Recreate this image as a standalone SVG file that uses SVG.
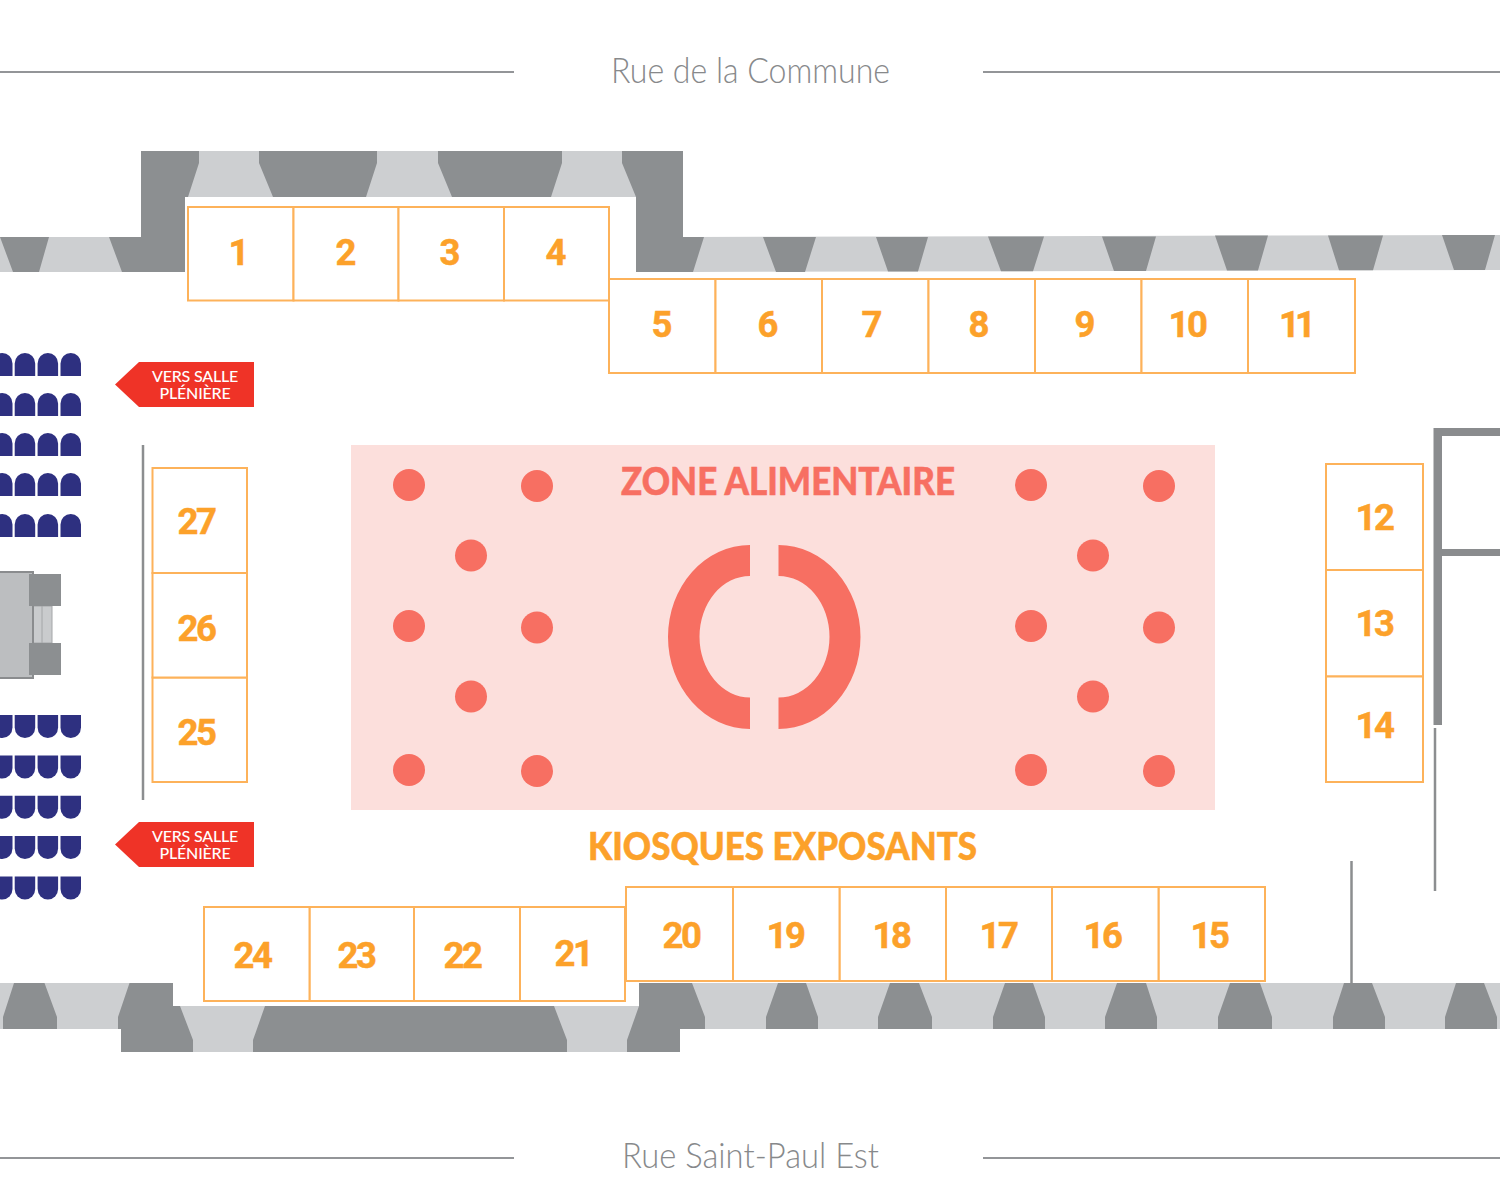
<svg xmlns="http://www.w3.org/2000/svg" width="1500" height="1200" viewBox="0 0 1500 1200">
<style>
.light{fill:#cdcfd1}
.dark{fill:#8c8f91}
.rule{stroke:#939598;stroke-width:2;fill:none}
.thin{stroke:#8c8e90;stroke-width:2.5;fill:none}
.wall{fill:#8a8c8e}
.street{font-family:"Lato","Liberation Sans",sans-serif;font-weight:300;font-size:36px;fill:#87898b}
.booth rect{fill:#fff;stroke:#fdb25a;stroke-width:2}
.booth text{font-family:"Roboto","Liberation Sans",sans-serif;font-weight:700;font-size:36.500px;fill:#fca12a;text-anchor:middle;stroke:#fca12a;stroke-width:.5}
.booth text.n{letter-spacing:-2.500px}
.booth text.e{letter-spacing:-5px}
.head{font-family:"Lato","Liberation Sans",sans-serif;font-weight:900;font-size:37px;stroke-width:.5}
.flag{fill:#ef3327}
.flagt{font-family:"Lato","Liberation Sans",sans-serif;font-weight:500;font-size:16px;fill:#fff;text-anchor:middle;letter-spacing:-.2px}
.c{fill:#f76f62}
.s{fill:#2e3080}
</style>
<defs>
<path id="up" d="M0 23V10.500A10.250 10.500 0 0 1 20.500 10.500V23Z"/>
<path id="dn" d="M0 0V12.500A10.250 10.500 0 0 0 20.500 12.500V0Z"/>
<g id="ur"><use href="#up" x="-8"/><use href="#up" x="14.700"/><use href="#up" x="37.600"/><use href="#up" x="60.500"/></g>
<g id="dr"><use href="#dn" x="-8"/><use href="#dn" x="14.700"/><use href="#dn" x="37.600"/><use href="#dn" x="60.500"/></g>
</defs>
<rect width="1500" height="1200" fill="#fff"/>

<g id="streets">
<path class="rule" d="M0 72H514M983 72H1500M0 1158H514M983 1158H1500"/>
<text class="street" x="611" y="83" textLength="279" lengthAdjust="spacingAndGlyphs">Rue de la Commune</text>
<text class="street" x="622" y="1168" textLength="257" lengthAdjust="spacingAndGlyphs">Rue Saint-Paul Est</text>
</g>

<g id="building-top">
<path class="light" d="M0 237H141V272H0ZM188 151H636V197H188ZM690 237L1500 235V270L690 272Z"/>
<path class="dark" d="M0 237H49L39 272H13ZM109 237H141V151H199V163L188 197H185V272H122ZM259 151H377V163L366 197H273L259 163ZM438 151H562V163L551 197H452L438 163ZM622 151H683V237L704 237L693 272H636V197L622 163Z"/>
<path class="dark" d="M763 237H816L805 272H776ZM876 237H928L918 271.500H888ZM988 236.500H1044L1033 271.300H1001ZM1102 236.500H1156L1146 271H1114ZM1215 235.500H1268L1258 270.500H1227ZM1328 235.500H1383L1373 270.300H1339ZM1442 235H1495L1485 270H1454Z"/>
</g>

<g id="building-bottom">
<path class="light" d="M0 983H173V1029H0ZM173 1006H639V1052H173ZM692 983H1500V1029H692Z"/>
<path class="dark" d="M14 983H44.500L57 1017V1029H3V1017ZM129.500 983H173V1006H180L193 1040V1052H121V1029H118V1017ZM265 1006H554L567 1040V1052H253V1040ZM639 983H692L705 1017V1029H680V1052H627V1040L639 1006Z"/>
<path class="dark" d="M778 983H806L818 1017V1029H766V1017ZM890 983H919L932 1017V1029H878V1017ZM1005 983H1033L1045 1017V1029H993V1017ZM1117 983H1146L1157 1017V1029H1105V1017ZM1230 983H1260L1272 1017V1029H1218V1017ZM1344 983H1372L1385 1017V1029H1333V1017ZM1456 983H1484L1497 1017V1029H1445V1017Z"/>
</g>

<g id="partitions">
<path class="wall" d="M1433.500 428H1500V436H1442V549H1500V556H1442V725H1433.500Z"/>
<path class="thin" d="M143 445V800M1435 728V891M1351.500 861V983"/>
</g>

<g id="stage">
<rect x="31" y="606" width="21" height="37" fill="#c9cbcd" stroke="#a4a6a8"/>
<path d="M42 606V643" stroke="#a4a6a8" fill="none"/>
<rect x="-3" y="572" width="36" height="106" fill="#bcbec0" stroke="#8a8c8e" stroke-width="2"/>
<rect class="dark" x="29" y="574" width="32" height="32"/>
<rect class="dark" x="29" y="643" width="32" height="32"/>
</g>

<g id="seats-top" class="s">
<use href="#ur" y="353"/><use href="#ur" y="393"/><use href="#ur" y="433"/><use href="#ur" y="473"/><use href="#ur" y="514"/>
</g>
<g id="seats-bottom" class="s">
<use href="#dr" y="715"/><use href="#dr" y="755.500"/><use href="#dr" y="795.800"/><use href="#dr" y="836"/><use href="#dr" y="876.500"/>
</g>

<g id="flag-top">
<path class="flag" d="M115 384.500L139 362H254V407H139Z"/>
<text class="flagt" x="195" y="382">VERS SALLE</text>
<text class="flagt" x="195" y="399">PLÉNIÈRE</text>
</g>
<g id="flag-bottom">
<path class="flag" d="M115 844.500L139 822H254V867H139Z"/>
<text class="flagt" x="195" y="842">VERS SALLE</text>
<text class="flagt" x="195" y="859">PLÉNIÈRE</text>
</g>

<g id="food-zone">
<rect x="351" y="445" width="864" height="365" fill="#fcdfdc"/>
<text class="head" x="621" y="494.500" fill="#f76f62" stroke="#f76f62" textLength="334" lengthAdjust="spacingAndGlyphs">ZONE ALIMENTAIRE</text>
<g class="c">
<circle cx="409" cy="485" r="16"/><circle cx="537" cy="486" r="16"/><circle cx="471" cy="555.500" r="16"/><circle cx="409" cy="626" r="16"/><circle cx="537" cy="627.500" r="16"/><circle cx="471" cy="696.500" r="16"/><circle cx="409" cy="770" r="16"/><circle cx="537" cy="771" r="16"/>
<circle cx="1031" cy="485" r="16"/><circle cx="1159" cy="486" r="16"/><circle cx="1093" cy="555.500" r="16"/><circle cx="1031" cy="626" r="16"/><circle cx="1159" cy="627.500" r="16"/><circle cx="1093" cy="696.500" r="16"/><circle cx="1031" cy="770" r="16"/><circle cx="1159" cy="771" r="16"/>
<path d="M750 545A82 92 0 0 0 750 729V697.500A50.500 60.750 0 0 1 750 576Z"/>
<path d="M778.500 545A82 92 0 0 1 778.500 729V697.500A51 60.750 0 0 0 778.500 576Z"/>
</g>
</g>

<text id="kiosques-title" class="head" x="588" y="860" fill="#fca12a" stroke="#fca12a" textLength="389" lengthAdjust="spacingAndGlyphs">KIOSQUES EXPOSANTS</text>

<g id="booth-1" class="booth"><rect x="188" y="207" width="105.500" height="93.500"/><text x="239" y="265">1</text></g>
<g id="booth-2" class="booth"><rect x="293.500" y="207" width="105" height="93.500"/><text x="346" y="265">2</text></g>
<g id="booth-3" class="booth"><rect x="398.500" y="207" width="105.500" height="93.500"/><text x="450" y="265">3</text></g>
<g id="booth-4" class="booth"><rect x="504" y="207" width="105" height="93.500"/><text x="556" y="265">4</text></g>
<g id="booth-5" class="booth"><rect x="609" y="279" width="106.500" height="94"/><text x="662" y="337">5</text></g>
<g id="booth-6" class="booth"><rect x="715.500" y="279" width="106.500" height="94"/><text x="768" y="337">6</text></g>
<g id="booth-7" class="booth"><rect x="822" y="279" width="106.500" height="94"/><text x="872" y="337">7</text></g>
<g id="booth-8" class="booth"><rect x="928.500" y="279" width="106.500" height="94"/><text x="979" y="337">8</text></g>
<g id="booth-9" class="booth"><rect x="1035" y="279" width="106.500" height="94"/><text x="1085" y="337">9</text></g>
<g id="booth-10" class="booth"><rect x="1141.500" y="279" width="106.500" height="94"/><text class="n" x="1187" y="337">10</text></g>
<g id="booth-11" class="booth"><rect x="1248" y="279" width="107" height="94"/><text class="e" x="1295" y="337">11</text></g>
<g id="booth-12" class="booth"><rect x="1326" y="464" width="97" height="106"/><text class="n" x="1374" y="530">12</text></g>
<g id="booth-13" class="booth"><rect x="1326" y="570" width="97" height="106.500"/><text class="n" x="1374" y="636">13</text></g>
<g id="booth-14" class="booth"><rect x="1326" y="676.500" width="97" height="105.500"/><text class="n" x="1374" y="738">14</text></g>
<g id="booth-15" class="booth"><rect x="1158.500" y="887" width="106.500" height="94"/><text class="n" x="1209" y="948">15</text></g>
<g id="booth-16" class="booth"><rect x="1052" y="887" width="106.500" height="94"/><text class="n" x="1102" y="948">16</text></g>
<g id="booth-17" class="booth"><rect x="946" y="887" width="106" height="94"/><text class="n" x="998" y="948">17</text></g>
<g id="booth-18" class="booth"><rect x="839.500" y="887" width="106.500" height="94"/><text class="n" x="891" y="948">18</text></g>
<g id="booth-19" class="booth"><rect x="733" y="887" width="106.500" height="94"/><text class="n" x="785" y="948">19</text></g>
<g id="booth-20" class="booth"><rect x="626" y="887" width="107" height="94"/><text class="n" x="681" y="948">20</text></g>
<g id="booth-21" class="booth"><rect x="520" y="907" width="105" height="94"/><text class="n" x="573" y="966">21</text></g>
<g id="booth-22" class="booth"><rect x="414" y="907" width="106" height="94"/><text class="n" x="462" y="968">22</text></g>
<g id="booth-23" class="booth"><rect x="309.500" y="907" width="104.500" height="94"/><text class="n" x="356" y="968">23</text></g>
<g id="booth-24" class="booth"><rect x="204" y="907" width="105.500" height="94"/><text class="n" x="252" y="968">24</text></g>
<g id="booth-25" class="booth"><rect x="152.500" y="677.500" width="94.500" height="104.500"/><text class="n" x="196" y="745">25</text></g>
<g id="booth-26" class="booth"><rect x="152.500" y="573" width="94.500" height="104.500"/><text class="n" x="196" y="641">26</text></g>
<g id="booth-27" class="booth"><rect x="152.500" y="468" width="94.500" height="105"/><text class="n" x="196" y="534">27</text></g>
</svg>
